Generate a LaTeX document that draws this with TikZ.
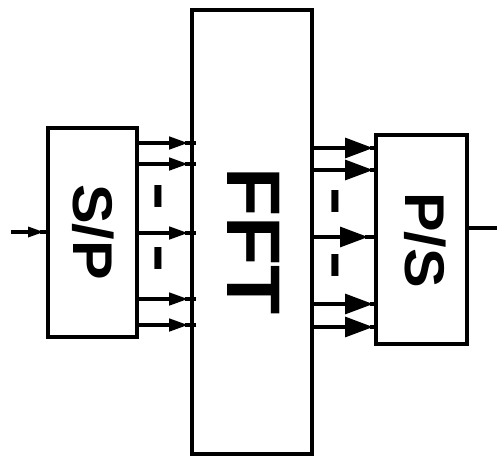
\documentclass[tikz,border=0pt]{standalone}
\usepackage{fontspec}
\setmainfont{Liberation Sans}
\newfontfamily\widefont[FakeStretch=1.06]{Liberation Sans}
\usetikzlibrary{arrows.meta}
\begin{document}
\begin{tikzpicture}[x=1pt,y=-1pt,line width=3.2pt,
  blk/.style={draw,line width=3.2pt,inner sep=0pt,outer sep=0pt},
  lbl/.style={inner sep=0pt,rotate=-90},
  dsh/.style={inner sep=0pt,rotate=-90,font=\fontsize{90}{90}\selectfont},
  sa/.style={-{Triangle[length=19pt,width=12.5pt]}},
  pa/.style={-{Triangle[length=28pt,width=20pt]}},
  ia/.style={-{Triangle[length=16pt,width=10pt]}}]
\useasboundingbox (0,0) rectangle (497,459);
% blocks
\node[blk,minimum width=89pt,minimum height=209pt] (sp) at (92.5,232.5) {};
\node[blk,minimum width=120pt,minimum height=444pt] (fft) at (252,232) {};
\node[blk,minimum width=91pt,minimum height=209pt] (ps) at (421.5,239.5) {};
% labels
\node[lbl,font=\widefont\fontsize{56}{56}\bfseries] (splbl) at (93.5,232) {S/P};
\node[lbl,font=\widefont\fontsize{76}{76}\bfseries] (fftlbl) at (253.5,241) {FFT};
\node[lbl,font=\widefont\fontsize{56}{56}\bfseries] (pslbl) at (425,240) {P/S};
% dashes
\node[dsh] (d1) at (148,196) {-};
\node[dsh] (d2) at (148,258) {-};
\node[dsh] (d3) at (325,201) {-};
\node[dsh] (d4) at (325,265) {-};
% input / output
\coordinate (in) at (11,232);
\coordinate (out) at (497,228);
\draw[ia] (in) -- (44,232);
\draw (40,232) -- (sp.west |- in);
\draw (ps.east |- out) -- (out);
% S/P -> FFT
\foreach \y in {143,164,233,299,325} {
  \draw[sa] (sp.east |- 0,\y) -- (188,\y);
  \draw (185,\y) -- ([xshift=4pt]fft.west |- 0,\y);
}
% FFT -> P/S
\foreach \y/\t in {148/373,170/373,237/368,304/373,327/373} {
  \draw[pa] (fft.east |- 0,\y) -- (\t,\y);
  \draw (\t-3,\y) -- (ps.west |- 0,\y);
}
\end{tikzpicture}
\end{document}
